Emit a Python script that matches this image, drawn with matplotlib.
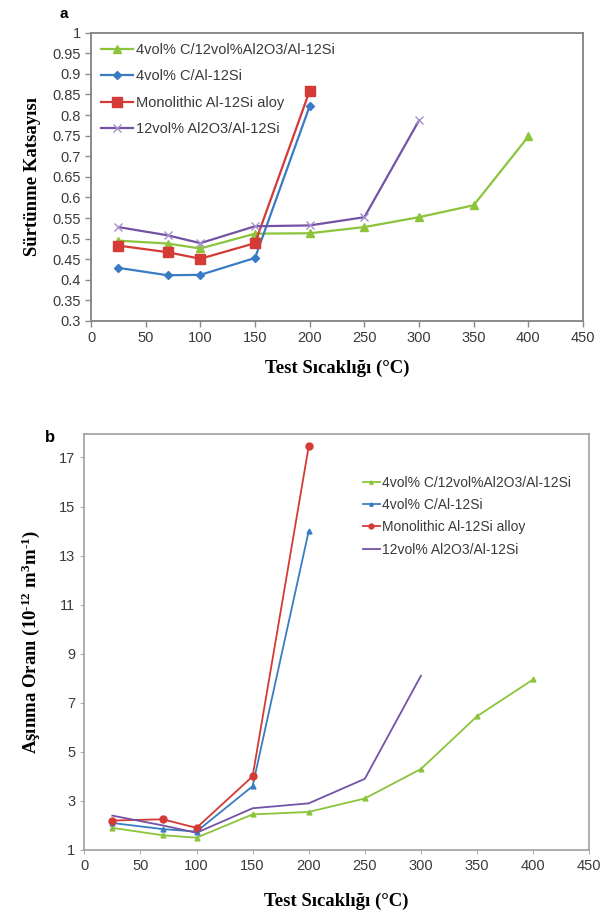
import matplotlib
matplotlib.use("Agg")
import matplotlib.pyplot as plt

plt.rcParams["mathtext.fontset"] = "custom"
plt.rcParams["mathtext.rm"] = "Liberation Serif:bold"
plt.rcParams["mathtext.it"] = "Liberation Serif:bold"
plt.rcParams["mathtext.bf"] = "Liberation Serif:bold"

# Test temperatures (°C)
temps_green = [25, 70, 100, 150, 200, 250, 300, 350, 400]
temps_blue = [25, 70, 100, 150, 200]
temps_red = [25, 70, 100, 150, 200]
temps_purple = [25, 70, 100, 150, 200, 250, 300]

labels_a = ["4vol% C/12vol%Al2O3/Al-12Si", "4vol% C/Al-12Si",
            "Monolithic Al-12Si aloy", "12vol% Al2O3/Al-12Si"]
labels_b = ["4vol% C/12vol%Al2O3/Al-12Si", "4vol% C/Al-12Si",
            "Monolithic Al-12Si alloy", "12vol% Al2O3/Al-12Si"]

# Friction coefficient
cof_green = [0.495, 0.488, 0.476, 0.512, 0.513, 0.528, 0.552, 0.581, 0.748]
cof_blue = [0.429, 0.411, 0.412, 0.453, 0.822]
cof_red = [0.483, 0.467, 0.451, 0.489, 0.859]
cof_purple = [0.528, 0.508, 0.489, 0.530, 0.532, 0.552, 0.787]

# Wear rate (10^-12 m^3 m^-1)
wear_green = [1.9, 1.6, 1.5, 2.45, 2.55, 3.1, 4.3, 6.45, 7.95]
wear_blue = [2.1, 1.85, 1.75, 3.6, 14.0]
wear_red = [2.2, 2.25, 1.9, 4.0, 17.45]
wear_purple = [2.4, 2.0, 1.7, 2.7, 2.9, 3.9, 8.1]

xticks = list(range(0, 451, 50))
yticks_a = [0.3, 0.35, 0.4, 0.45, 0.5, 0.55, 0.6, 0.65, 0.7, 0.75, 0.8,
            0.85, 0.9, 0.95, 1.0]
ytick_labels_a = ["0.3", "0.35", "0.4", "0.45", "0.5", "0.55", "0.6", "0.65",
                  "0.7", "0.75", "0.8", "0.85", "0.9", "0.95", "1"]
yticks_b = [1, 3, 5, 7, 9, 11, 13, 15, 17]

GREEN = "#8cc43c"
BLUE = "#3a7cc4"
RED = "#d43a36"
PURPLE = "#7452a4"
FRAME = "#8a8a8a"
TICKTXT = "#3a3a3a"

sans = ["Liberation Sans", "DejaVu Sans"]
serif = ["Liberation Serif", "DejaVu Serif"]

fig = plt.figure(figsize=(6.0, 9.17), dpi=100)

# ---------------- panel a ----------------
ax1 = fig.add_axes([0.1517, 0.650, 0.82, 0.3143])
ax1.plot(temps_green, cof_green, color=GREEN, lw=1.6, marker="^", ms=6,
         label=labels_a[0])
ax1.plot(temps_blue, cof_blue, color=BLUE, lw=1.6, marker="D", ms=4,
         label=labels_a[1])
ax1.plot(temps_red, cof_red, color=RED, lw=1.6, marker="s", ms=7,
         label=labels_a[2])
ax1.plot(temps_purple, cof_purple, color=PURPLE, lw=1.6, marker="x", ms=6,
         mec="#a58fd0", mew=1.0, label=labels_a[3])
ax1.set_xlim(0, 450)
ax1.set_ylim(0.3, 1.0)
ax1.set_xticks(xticks)
ax1.set_yticks(yticks_a)
ax1.set_yticklabels(ytick_labels_a)
for lab in ax1.get_xticklabels() + ax1.get_yticklabels():
    lab.set_family(sans)
    lab.set_fontsize(10.5)
    lab.set_color(TICKTXT)
ax1.tick_params(axis="both", direction="out", length=4, color=FRAME, width=1)
for sp in ax1.spines.values():
    sp.set_color(FRAME)
    sp.set_linewidth(1.4)
ax1.set_xlabel("Test Sıcaklığı (°C)", family=serif, fontweight="bold",
               fontsize=13.5, labelpad=10)
ax1.set_ylabel("Sürtünme Katsayısı", family=serif, fontweight="bold",
               fontsize=13.5, labelpad=8)
leg1 = ax1.legend(loc="upper left", frameon=False, prop={"family": sans,
                  "size": 10.5}, handlelength=2.2, handletextpad=0.2,
                  labelspacing=0.85, borderaxespad=0.3,
                  bbox_to_anchor=(0.0, 1.0))
for t in leg1.get_texts():
    t.set_color(TICKTXT)
fig.text(0.1, 0.985, "a", family=sans, fontweight="bold", fontsize=11,
         va="center")

# ---------------- panel b ----------------
ax2 = fig.add_axes([0.1405, 0.0731, 0.8415, 0.4537])
ax2.plot(temps_green, wear_green, color=GREEN, lw=1.3, marker="^", ms=3.5,
         label=labels_b[0])
ax2.plot(temps_blue, wear_blue, color=BLUE, lw=1.3, marker="^", ms=3.5,
         label=labels_b[1])
ax2.plot(temps_red, wear_red, color=RED, lw=1.3, marker="o", ms=5,
         label=labels_b[2])
ax2.plot(temps_purple, wear_purple, color=PURPLE, lw=1.3,
         label=labels_b[3])
ax2.set_xlim(0, 450)
ax2.set_ylim(1, 17.96)
ax2.set_xticks(xticks)
ax2.set_yticks(yticks_b)
for lab in ax2.get_xticklabels() + ax2.get_yticklabels():
    lab.set_family(sans)
    lab.set_fontsize(10.5)
    lab.set_color(TICKTXT)
ax2.tick_params(axis="both", direction="out", length=3, color="#b0b0b0",
                width=0.8)
for sp in ax2.spines.values():
    sp.set_color("#a0a0a0")
    sp.set_linewidth(1.2)
ax2.set_xlabel("Test Sıcaklığı (°C)", family=serif, fontweight="bold",
               fontsize=13.5, labelpad=14)
ax2.set_ylabel(r"Aşınma Oranı (10$^{\text{-12}}$ m$^{\text{3}}$m$^{\text{-1}}$)",
               family=serif, fontweight="bold", fontsize=13.5, labelpad=12)
leg2 = ax2.legend(loc="upper left", frameon=False,
                  prop={"family": sans, "size": 10},
                  handlelength=1.2, handletextpad=0.2, labelspacing=0.6,
                  markerscale=0.7, bbox_to_anchor=(0.527, 0.93))
for t in leg2.get_texts():
    t.set_color(TICKTXT)
fig.text(0.075, 0.523, "b", family=sans, fontweight="bold", fontsize=12,
         va="center")

fig.savefig("out.png", dpi=100)
